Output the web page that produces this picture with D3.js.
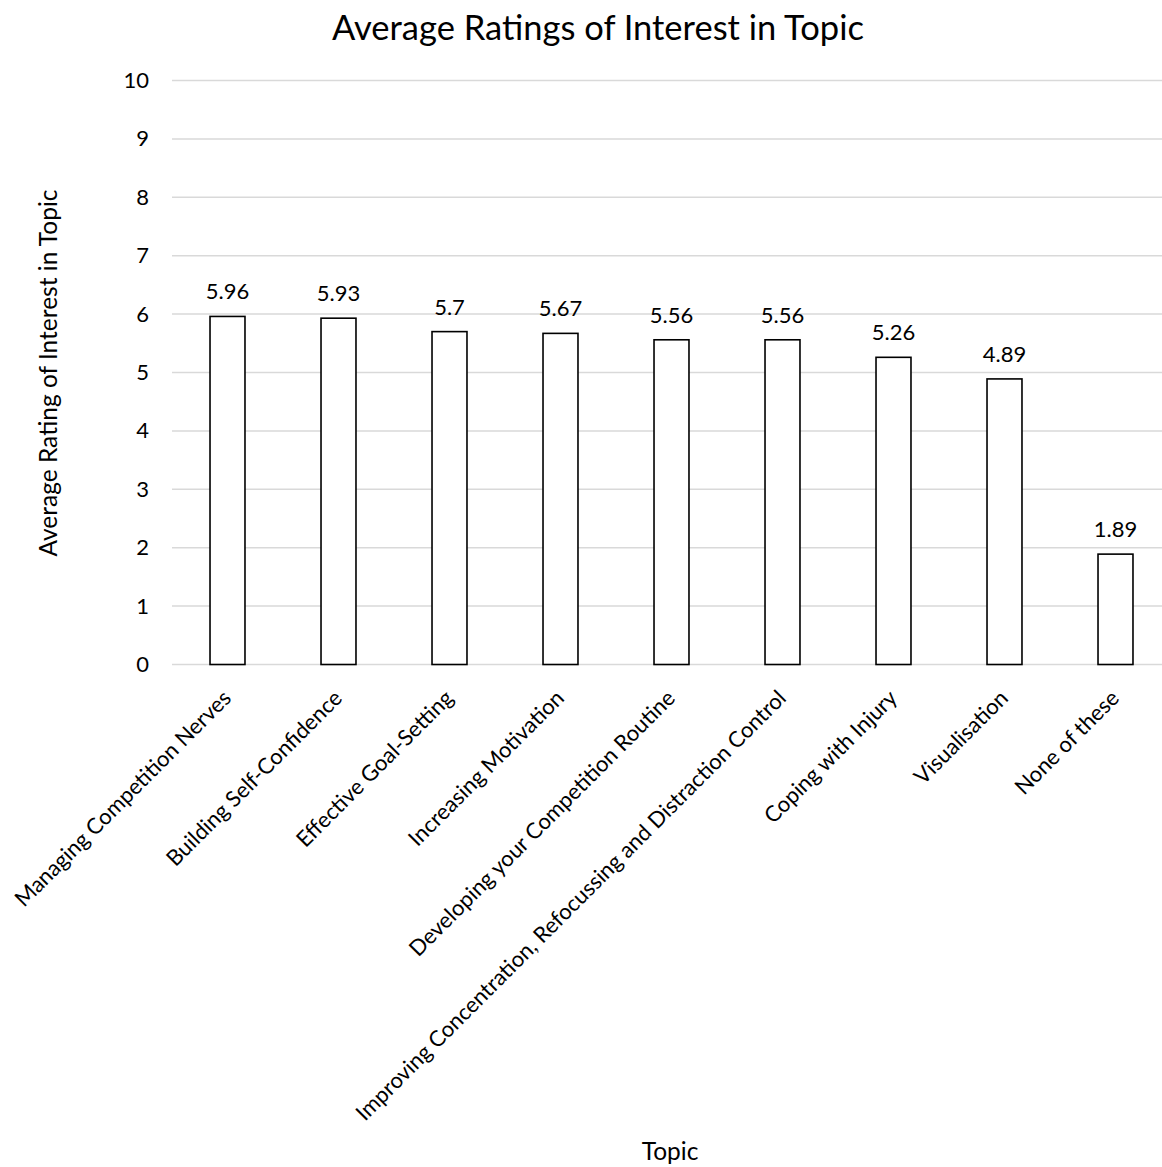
<!DOCTYPE html>
<html>
<head>
<meta charset="utf-8">
<script src="https://cdn.jsdelivr.net/npm/d3@7"></script>
<style>
  html, body { margin: 0; padding: 0; background: #fff; }
  svg { display: block; font-family: Lato, "Open Sans", sans-serif; }
</style>
</head>
<body>
<svg id="chart" width="1162" height="1167"></svg>
<script>
// Average interest ratings per topic
const topics = [
  "Managing Competition Nerves",
  "Building Self-Confidence",
  "Effective Goal-Setting",
  "Increasing Motivation",
  "Developing your Competition Routine",
  "Improving Concentration, Refocussing and Distraction Control",
  "Coping with Injury",
  "Visualisation",
  "None of these"
];
const ratings = [5.96, 5.93, 5.7, 5.67, 5.56, 5.56, 5.26, 4.89, 1.89];
const yTicks = [0, 1, 2, 3, 4, 5, 6, 7, 8, 9, 10];

const labelSize = "22px";
const axisTitleSize = "24.5px";
const svg = d3.select("#chart");

const x = d3.scaleBand()
  .domain(topics)
  .range([172, 1171])
  .paddingInner(0.685)
  .paddingOuter(0.3425);

const y = d3.scaleLinear()
  .domain([0, 10])
  .range([664.5, 80.5]);

// Title
svg.append("text")
  .attr("x", 598)
  .attr("y", 40)
  .attr("text-anchor", "middle")
  .style("font-size", "34.5px")
  .style("fill", "#000")
  .text("Average Ratings of Interest in Topic");

// Gridlines
svg.append("g")
  .selectAll("line")
  .data(yTicks)
  .join("line")
  .attr("x1", 172)
  .attr("x2", 1162)
  .attr("y1", d => y(d))
  .attr("y2", d => y(d))
  .attr("stroke", "#d9d9d9")
  .attr("stroke-width", 1.5);

// Y axis labels
const yAxis = d3.axisLeft(y).tickValues(yTicks).tickSize(0).tickPadding(0);
const gy = svg.append("g")
  .attr("transform", "translate(149,0)")
  .call(yAxis);
gy.select(".domain").remove();
gy.selectAll("text")
  .style("font-family", "Lato, 'Open Sans', sans-serif")
  .style("font-size", labelSize)
  .style("fill", "#000");

// Bars
svg.append("g")
  .selectAll("rect")
  .data(ratings)
  .join("rect")
  .attr("x", (d, i) => x(topics[i]))
  .attr("y", d => y(d))
  .attr("width", x.bandwidth())
  .attr("height", d => y(0) - y(d))
  .attr("fill", "#fff")
  .attr("stroke", "#000")
  .attr("stroke-width", 1.6);

// Value labels
svg.append("g")
  .selectAll("text")
  .data(ratings)
  .join("text")
  .attr("x", (d, i) => x(topics[i]) + x.bandwidth() / 2)
  .attr("y", d => y(d) - 17)
  .attr("text-anchor", "middle")
  .style("font-size", labelSize)
  .style("fill", "#000")
  .text(d => String(d));

// Category labels, rotated
const xAxis = d3.axisBottom(x).tickSize(0).tickPadding(0);
const gx = svg.append("g")
  .attr("transform", `translate(0,${y(0)})`)
  .call(xAxis);
gx.select(".domain").remove();
gx.selectAll("text")
  .style("font-family", "Lato, 'Open Sans', sans-serif")
  .style("font-size", labelSize)
  .style("fill", "#000")
  .attr("text-anchor", "end")
  .attr("dy", null)
  .attr("y", 0)
  .attr("transform", "translate(5,35) rotate(-45)");

// Axis titles
svg.append("text")
  .attr("x", 670)
  .attr("y", 1160)
  .attr("text-anchor", "middle")
  .style("font-size", axisTitleSize)
  .text("Topic");

svg.append("text")
  .attr("transform", "translate(57,373) rotate(-90)")
  .attr("text-anchor", "middle")
  .style("font-size", axisTitleSize)
  .text("Average Rating of Interest in Topic");
</script>
</body>
</html>
